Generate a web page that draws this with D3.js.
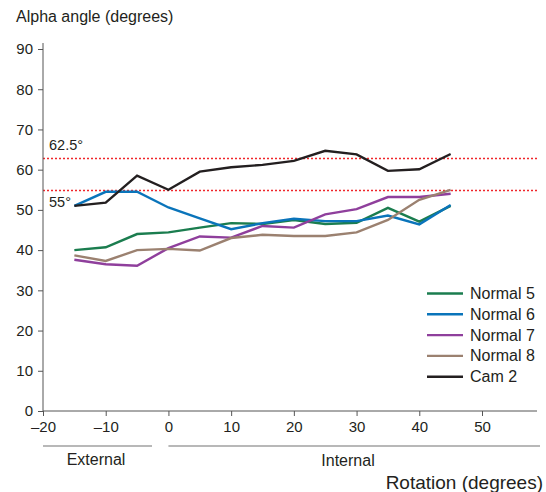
<!DOCTYPE html>
<html>
<head>
<meta charset="utf-8">
<title>Alpha angle</title>
<script src="https://d3js.org/d3.v7.min.js"></script>
<style>
	body { margin: 0; background: #fff; }
	text { font-family: "Liberation Sans", Arial, sans-serif; fill: #231f20; }
</style>
</head>
<body>
<div id="chart"></div>
<script>
	// rotation (degrees)
	var rotation = [-15, -10, -5, 0, 5, 10, 15, 20, 25, 30, 35, 40, 45];

	// alpha angle per subject
	var normal5 = [40.0, 40.7, 44.0, 44.4, 45.6, 46.7, 46.5, 47.5, 46.5, 46.8, 50.5, 47.1, 51.0];
	var normal6 = [51.0, 54.5, 54.5, 50.6, 47.9, 45.2, 46.7, 47.8, 47.2, 47.2, 48.6, 46.4, 51.2];
	var normal7 = [37.6, 36.5, 36.1, 40.5, 43.4, 43.1, 46.0, 45.6, 48.9, 50.2, 53.2, 53.2, 54.0];
	var normal8 = [38.7, 37.3, 40.0, 40.3, 39.9, 43.0, 43.8, 43.5, 43.5, 44.4, 47.5, 52.5, 55.0];
	var cam2 = [51.0, 51.8, 58.5, 55.0, 59.5, 60.6, 61.2, 62.2, 64.7, 63.8, 59.7, 60.1, 63.9];

	var seriesNames = ["Normal 5", "Normal 6", "Normal 7", "Normal 8", "Cam 2"];
	var seriesValues = [normal5, normal6, normal7, normal8, cam2];
	var seriesColors = ["#1b7d4f", "#0a74ba", "#8f3f9c", "#9b8170", "#231f20"];

	var xTicks = [-20, -10, 0, 10, 20, 30, 40, 50];
	var yTicks = [0, 10, 20, 30, 40, 50, 60, 70, 80, 90];

	// threshold lines: position, label as printed
	var refValues = [63, 55];
	var refLabels = ["62.5°", "55°"];

	var w = 546;
	var h = 492;
	var svg = d3.select("#chart")
				.append("svg")
				.attr("width", w)
				.attr("height", h);

	var x = d3.scaleLinear().domain([-20, 50]).range([43, 482]);
	var y = d3.scaleLinear().domain([0, 90]).range([411, 49]);
	var xEnd = 537;
	var yTop = 43;

	// title
	svg.append("text")
		.attr("x", 16)
		.attr("y", 22)
		.style("font-size", "16px")
		.text("Alpha angle (degrees)");

	// reference lines
	svg.selectAll(".ref")
		.data(refValues)
		.enter()
		.append("line")
		.attr("x1", x(-20))
		.attr("x2", xEnd)
		.attr("y1", function(d) { return Math.round(y(d)) + 0.5; })
		.attr("y2", function(d) { return Math.round(y(d)) + 0.5; })
		.style("stroke", "#f0262b")
		.style("stroke-width", 1.6)
		.style("stroke-dasharray", "2,2");

	svg.append("text")
		.attr("x", 49)
		.attr("y", 150)
		.style("font-size", "14.5px")
		.text(refLabels[0]);
	svg.append("text")
		.attr("x", 49)
		.attr("y", 207)
		.style("font-size", "14.5px")
		.text(refLabels[1]);

	// series
	var line = d3.line()
		.x(function(d, i) { return x(rotation[i]); })
		.y(function(d) { return y(d); });

	svg.selectAll(".series")
		.data(seriesValues)
		.enter()
		.append("path")
		.attr("d", function(d) { return line(d); })
		.style("fill", "none")
		.style("stroke", function(d, i) { return seriesColors[i]; })
		.style("stroke-width", 2.4)
		.style("stroke-linejoin", "miter");

	// y axis
	var yAxis = svg.append("g")
		.attr("transform", "translate(" + x(-20) + ",0)")
		.call(d3.axisLeft(y).tickValues(yTicks).tickSize(5).tickPadding(5));
	yAxis.select(".domain").remove();
	yAxis.append("line")
		.attr("x1", 0).attr("x2", 0)
		.attr("y1", yTop).attr("y2", y(0))
		.style("stroke", "#555");
	yAxis.selectAll(".tick line").style("stroke", "#555");
	yAxis.selectAll(".tick text")
		.style("font-size", "15px")
		.style("fill", "#231f20");

	// x axis
	var xAxis = svg.append("g")
		.attr("transform", "translate(0," + y(0) + ")")
		.call(d3.axisBottom(x).tickValues(xTicks).tickSize(5).tickPadding(5)
			.tickFormat(function(d) { return d < 0 ? "\u2013" + Math.abs(d) : d; }));
	xAxis.select(".domain").remove();
	xAxis.append("line")
		.attr("x1", x(-20)).attr("x2", xEnd)
		.attr("y1", 0).attr("y2", 0)
		.style("stroke", "#555");
	xAxis.selectAll(".tick line").style("stroke", "#555");
	xAxis.selectAll(".tick text")
		.style("font-size", "15px")
		.style("fill", "#231f20");

	// external / internal brackets
	svg.append("line")
		.attr("x1", x(-20)).attr("x2", 152)
		.attr("y1", 446).attr("y2", 446)
		.style("stroke", "#a0a0a0").style("stroke-width", 1.3);
	svg.append("line")
		.attr("x1", x(0)).attr("x2", 540)
		.attr("y1", 446).attr("y2", 446)
		.style("stroke", "#a0a0a0").style("stroke-width", 1.3);
	svg.append("text")
		.attr("x", 96).attr("y", 465)
		.attr("text-anchor", "middle")
		.style("font-size", "16px")
		.text("External");
	svg.append("text")
		.attr("x", 348).attr("y", 466)
		.attr("text-anchor", "middle")
		.style("font-size", "16px")
		.text("Internal");
	svg.append("text")
		.attr("x", 543).attr("y", 489)
		.attr("text-anchor", "end")
		.style("font-size", "19px")
		.text("Rotation (degrees)");

	// legend
	var legend = svg.selectAll(".legend")
		.data(seriesNames)
		.enter()
		.append("g")
		.attr("transform", function(d, i) { return "translate(427," + (293.5 + i * 20.8) + ")"; });
	legend.append("line")
		.attr("x1", 0).attr("x2", 36)
		.style("stroke", function(d, i) { return seriesColors[i]; })
		.style("stroke-width", 2.4);
	legend.append("text")
		.attr("x", 43)
		.attr("y", 5.5)
		.style("font-size", "16px")
		.text(function(d) { return d; });
</script>
</body>
</html>
